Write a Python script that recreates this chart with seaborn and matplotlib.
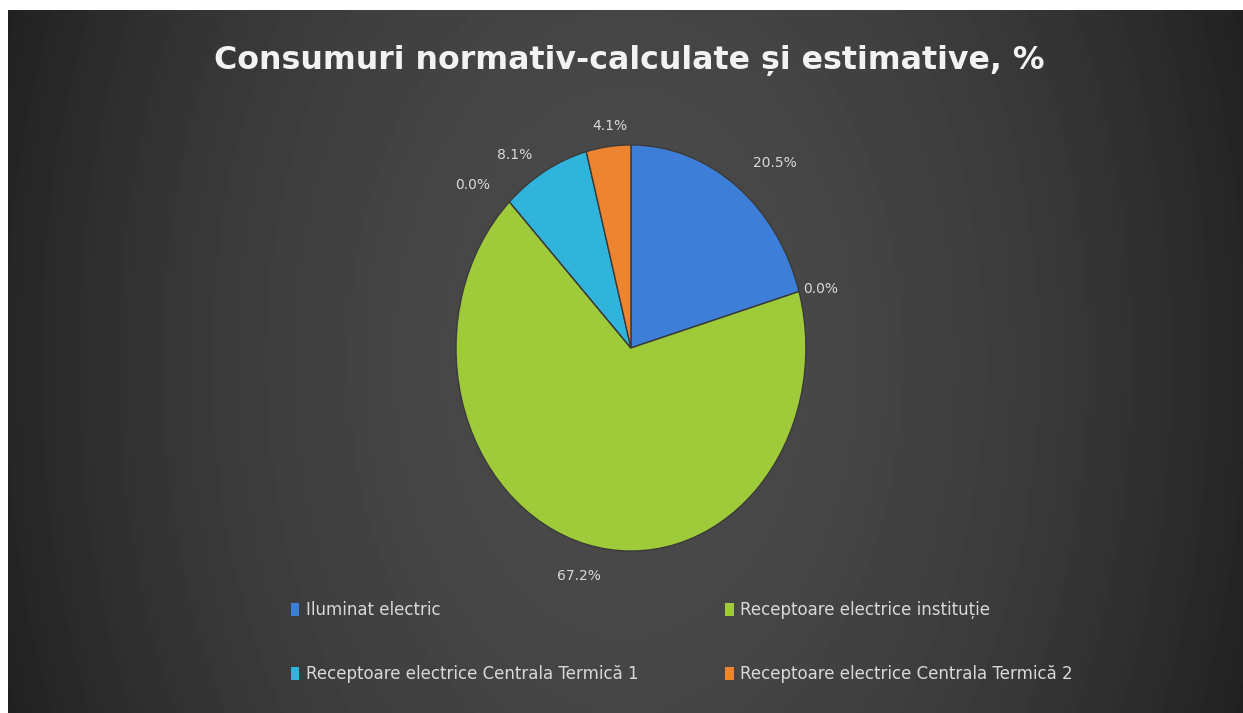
import numpy as np
import seaborn as sns
import matplotlib.pyplot as plt

# date
categorii = ['Iluminat electric', '', 'Receptoare electrice instituție', '',
             'Receptoare electrice Centrala Termică 1',
             'Receptoare electrice Centrala Termică 2']
valori = [20.5, 0.0, 67.2, 0.0, 8.1, 4.1]
culori = ['#3d7fd8', '#c0504d', '#9fcb3b', '#8064a2', '#31b4dc', '#ec8430']
titlu = 'Consumuri normativ-calculate și estimative, %'

sns.set_theme(style='dark')
plt.rcParams['font.family'] = ['DejaVu Sans']

fig = plt.figure(figsize=(12.43, 7.13), dpi=100)
fig.patch.set_facecolor('white')

# fundal cu gradient gri inchis
bg = fig.add_axes([8 / 1243, 0, 1 - 8 / 1243, 1 - 10 / 713])
xs = np.linspace(-1, 1, 400)
ys = np.linspace(-1, 1, 200)
X, Y = np.meshgrid(xs, ys)
grad = 0.29 - 0.14 * X ** 2 - 0.02 * Y ** 2
bg.imshow(grad, cmap='gray', vmin=0, vmax=1, aspect='auto', extent=[0, 1, 0, 1])
bg.set_axis_off()

# pie
ax = fig.add_axes([0.3246, 0.1417, 0.366, 0.7405])
wedges, texts, autotexts = ax.pie(
    valori, colors=culori, startangle=90, counterclock=False,
    autopct='%1.1f%%', pctdistance=1.16,
    wedgeprops=dict(edgecolor='#3a3a3a', linewidth=1.0),
    textprops=dict(color='#d9d9d9', fontsize=10))
ax.set_aspect('auto')
ax.set_xlim(-1.3, 1.3)
ax.set_ylim(-1.3, 1.3)
ax.set_axis_off()

# valorile exacte din tabel (suma 99.9)
for t, v in zip(autotexts, valori):
    t.set_text(f'{v:.1f}%')

# etichete mutate ca in Excel (evitare suprapuneri)
ajustari = {0: (1.23, 47.9), 1: (1.12, 15.0), 3: (1.21, 138.5), 4: (1.16, 124.9), 5: (1.10, 96.3)}
for i, (r, a) in ajustari.items():
    autotexts[i].set_position((r * np.cos(np.radians(a)), r * np.sin(np.radians(a))))

fig.text(0.506, 0.915, titlu, ha='center', va='center', color='#f2f2f2',
         fontsize=22.8, fontweight='bold')

# ordine pe randuri ca in legenda originala
idx = [0, 4, 2, 5]
leg = fig.legend([wedges[i] for i in idx], [categorii[i] for i in idx],
                 loc='upper left', bbox_to_anchor=(0.222, 0.178), ncol=2,
                 frameon=False, fontsize=12, labelcolor='#d9d9d9',
                 handlelength=0.5, handleheight=0.8, handletextpad=0.4,
                 columnspacing=5.2, labelspacing=2.75)
for h in leg.legend_handles:
    h.set_edgecolor('none')

fig.savefig('out.png', dpi=100, facecolor=fig.get_facecolor())
